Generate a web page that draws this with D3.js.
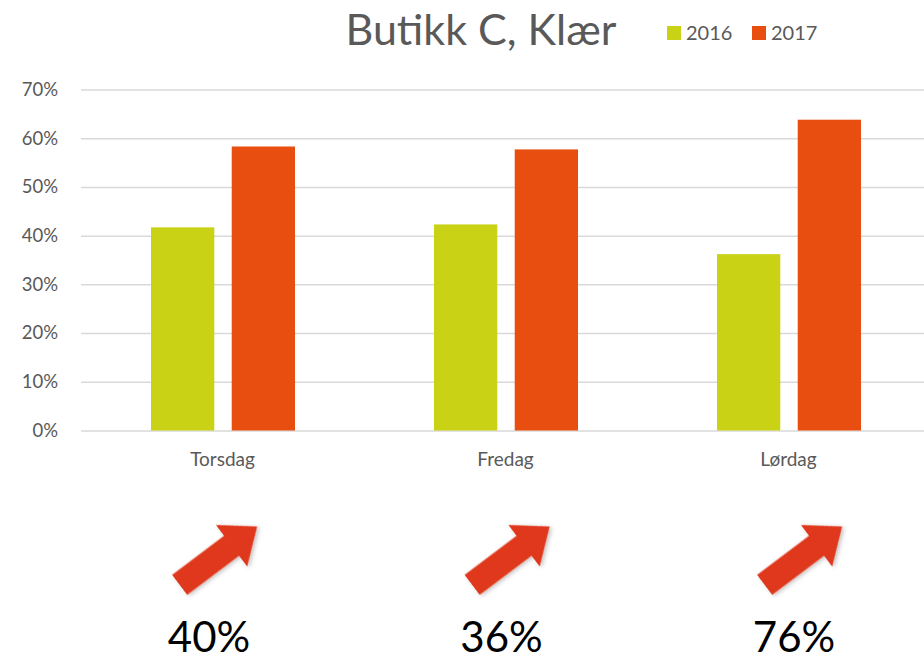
<!DOCTYPE html>
<html>
<head>
<meta charset="utf-8">
<script src="https://cdn.jsdelivr.net/npm/d3@7"></script>
<style>
  body { margin: 0; background: #fff; }
  text { font-family: Lato, "Open Sans", sans-serif; }
</style>
</head>
<body>
<script>
//chart data
var days = ["Torsdag", "Fredag", "Lørdag"];
var years = ["2016", "2017"];
var share2016 = [0.417, 0.423, 0.362];
var share2017 = [0.583, 0.577, 0.638];
var growth = ["40%", "36%", "76%"];
var yTicks = [0, 0.1, 0.2, 0.3, 0.4, 0.5, 0.6, 0.7];

var colors = {"2016": "#c9d215", "2017": "#e84e0f"};

window.onload = function(){
    var w = 924, h = 660;

    var svg = d3.select("body")
        .append("svg")
        .attr("width", w)
        .attr("height", h);

    //scales
    var x0 = d3.scaleBand()
        .domain(days)
        .range([81, 930]);

    var x1 = d3.scaleBand()
        .domain(years)
        .range([70, 214])
        .paddingInner(0.216);

    var y = d3.scaleLinear()
        .domain([0, 0.7])
        .range([430.5, 89.5]);

    //the arrows below the chart sit on their own spacing
    var xNote = d3.scalePoint()
        .domain(days)
        .range([218, 803]);

    //gridlines + y labels
    var yAxis = d3.axisLeft(y)
        .tickValues(yTicks)
        .tickFormat(d3.format(".0%"))
        .tickSize(-(w - 81))
        .tickPadding(23);

    var gy = svg.append("g")
        .attr("transform", "translate(81,0)")
        .call(yAxis);
    gy.select(".domain").remove();
    gy.selectAll(".tick line")
        .attr("stroke", "#d9d9d9")
        .attr("stroke-width", 1.5);
    gy.selectAll(".tick text")
        .attr("fill", "#595959")
        .style("font-size", "18.5px");

    //bars
    var rows = days.map(function(d, i){
        return {day: d, values: [
            {year: "2016", v: share2016[i]},
            {year: "2017", v: share2017[i]}
        ]};
    });

    var groups = svg.selectAll(".grp")
        .data(rows)
        .enter()
        .append("g")
        .attr("class", "grp")
        .attr("transform", function(d){ return "translate(" + x0(d.day) + ",0)"; });

    groups.selectAll("rect")
        .data(function(d){ return d.values; })
        .enter()
        .append("rect")
        .attr("x", function(d){ return x1(d.year); })
        .attr("width", x1.bandwidth())
        .attr("y", function(d){ return y(d.v); })
        .attr("height", function(d){ return y(0) - y(d.v); })
        .attr("fill", function(d){ return colors[d.year]; });

    //x labels
    var xAxis = d3.axisBottom(x0).tickSize(0).tickPadding(22);
    var gx = svg.append("g")
        .attr("transform", "translate(0," + y(0) + ")")
        .call(xAxis);
    gx.select(".domain").remove();
    gx.selectAll(".tick text")
        .attr("fill", "#595959")
        .style("font-size", "19px");

    //title
    svg.append("text")
        .attr("x", 481)
        .attr("y", 45)
        .attr("text-anchor", "middle")
        .attr("fill", "#595959")
        .style("font-size", "43px")
        .text("Butikk C, Klær");

    //legend
    var leg = svg.selectAll(".leg")
        .data(years)
        .enter()
        .append("g")
        .attr("class", "leg")
        .attr("transform", function(d, i){ return "translate(" + (667 + i * 85) + ",26)"; });
    leg.append("rect")
        .attr("width", 14)
        .attr("height", 14)
        .attr("fill", function(d){ return colors[d]; });
    leg.append("text")
        .attr("x", 19)
        .attr("y", 14)
        .attr("fill", "#595959")
        .style("font-size", "20px")
        .text(function(d){ return d; });

    //arrows
    var defs = svg.append("defs");
    var f = defs.append("filter").attr("id", "shadow")
        .attr("x", "-20%").attr("y", "-20%").attr("width", "140%").attr("height", "140%");
    f.append("feDropShadow")
        .attr("dx", 1).attr("dy", 2).attr("stdDeviation", 2)
        .attr("flood-color", "#000").attr("flood-opacity", 0.25);

    var arrowPath = "M-48,-12.5 L17,-12.5 L17,-26 L49,0 L17,26 L17,12.5 L-48,12.5 Z";

    svg.selectAll(".arrow")
        .data(days)
        .enter()
        .append("path")
        .attr("class", "arrow")
        .attr("d", arrowPath)
        .attr("fill", "#e0371a")
        .attr("filter", "url(#shadow)")
        .attr("transform", function(d){
            return "translate(" + xNote(d) + ",556) rotate(-37)";
        });

    //growth labels
    svg.selectAll(".growth")
        .data(growth)
        .enter()
        .append("text")
        .attr("class", "growth")
        .attr("x", function(d, i){ return xNote(days[i]) - 9; })
        .attr("y", 652)
        .attr("text-anchor", "middle")
        .attr("fill", "#000")
        .style("font-size", "42px")
        .text(function(d){ return d; });
};
</script>
</body>
</html>
